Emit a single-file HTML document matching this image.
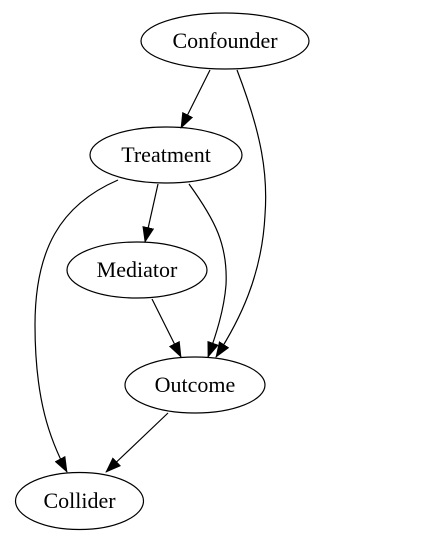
<!DOCTYPE html>
<html><head><meta charset="utf-8"><style>
html,body{margin:0;padding:0;background:#fff;}
svg{display:block;}
text{font-family:"Liberation Serif","Times New Roman",serif;font-size:22px;fill:#000;text-anchor:middle;}
</style></head><body>
<svg width="446" height="544" viewBox="0 0 446 544" xmlns="http://www.w3.org/2000/svg">
<defs>
<marker id="a" markerWidth="16" markerHeight="12" refX="15" refY="6" orient="auto" markerUnits="userSpaceOnUse">
<path d="M0,0 L16,6 L0,12 Z" fill="#000"/>
</marker>
</defs>
<g fill="none" stroke="#000" stroke-width="1.2">
<ellipse cx="225" cy="41" rx="84" ry="28"/>
<ellipse cx="166" cy="155" rx="76" ry="28"/>
<ellipse cx="137" cy="270" rx="70" ry="28"/>
<ellipse cx="195" cy="385" rx="70" ry="28"/>
<ellipse cx="79.5" cy="501" rx="64" ry="28.5"/>
<path d="M210,70 L181,128" marker-end="url(#a)"/>
<path d="M237,70 C262,135 268,175 265,215 C262,275 240,320 216,357" marker-end="url(#a)"/>
<path d="M158,184 L145,242" marker-end="url(#a)"/>
<path d="M189,184 C215,220 228,245 226,285 C224,310 216,335 208,357" marker-end="url(#a)"/>
<path d="M118,180 C60,205 35,250 35,325 C35,400 50,440 67,472" marker-end="url(#a)"/>
<path d="M152,299 L181,357" marker-end="url(#a)"/>
<path d="M168,413 L106,472" marker-end="url(#a)"/>
</g>
<text x="225" y="48">Confounder</text>
<text x="166" y="162">Treatment</text>
<text x="137" y="277">Mediator</text>
<text x="195" y="392">Outcome</text>
<text x="79.5" y="508">Collider</text>
</svg>
</body></html>
